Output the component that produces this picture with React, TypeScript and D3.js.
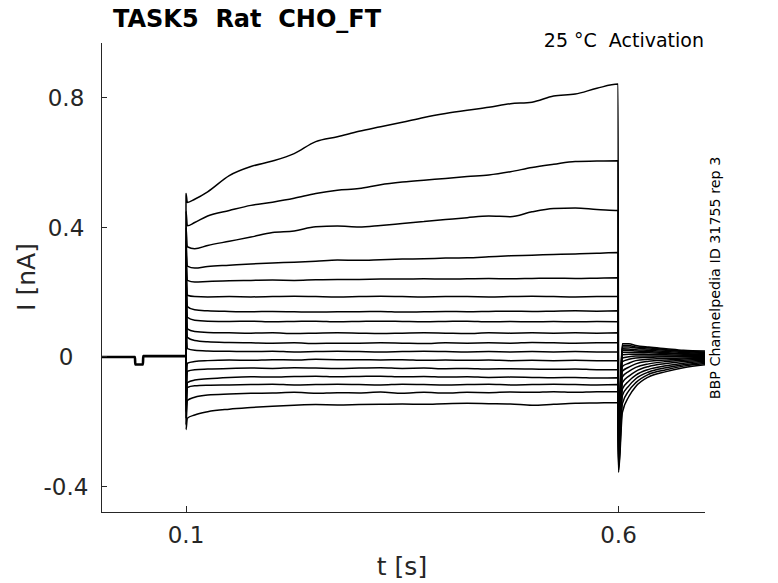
import React, { useRef, useEffect } from 'react';
import * as d3 from 'd3';

// holding segment before the voltage step (shared by every sweep)
const T_HOLD = [0.0017, 0.041, 0.0413, 0.0502, 0.0505, 0.0999];
const I_HOLD = [-0.001, -0.001, -0.024, -0.024, 0.002, 0.002];

// step segment: first value is the capacitive spike at step onset
const T_STEP = [
  0.1, 0.1015, 0.11, 0.125, 0.15, 0.175, 0.2, 0.225, 0.25, 0.275, 0.3, 0.325, 0.35, 0.375, 0.4,
  0.425, 0.45, 0.475, 0.5, 0.525, 0.55, 0.575, 0.5995,
];

const SWEEP_01 = [0.505, 0.477, 0.487, 0.51, 0.56, 0.588, 0.605, 0.628, 0.665, 0.68, 0.697, 0.711, 0.725, 0.74, 0.752, 0.762, 0.771, 0.782, 0.787, 0.806, 0.812, 0.83, 0.843];
const SWEEP_02 = [0.45, 0.405, 0.415, 0.435, 0.452, 0.468, 0.478, 0.49, 0.505, 0.515, 0.52, 0.532, 0.54, 0.546, 0.551, 0.557, 0.562, 0.572, 0.585, 0.595, 0.604, 0.605, 0.606];
const SWEEP_03 = [0.4, 0.34, 0.334, 0.344, 0.357, 0.37, 0.384, 0.389, 0.402, 0.404, 0.401, 0.406, 0.412, 0.418, 0.424, 0.43, 0.435, 0.433, 0.448, 0.458, 0.46, 0.455, 0.452];
const SWEEP_04 = [0.36, 0.28, 0.274, 0.279, 0.283, 0.287, 0.29, 0.292, 0.295, 0.299, 0.298, 0.3, 0.302, 0.303, 0.305, 0.306, 0.309, 0.312, 0.314, 0.316, 0.318, 0.32, 0.322];
const SWEEP_05 = [0.33, 0.236, 0.231, 0.233, 0.235, 0.236, 0.237, 0.236, 0.238, 0.239, 0.239, 0.24, 0.24, 0.241, 0.24, 0.241, 0.242, 0.241, 0.242, 0.243, 0.242, 0.243, 0.244];
const SWEEP_06 = [0.3, 0.19, 0.186, 0.185, 0.186, 0.185, 0.186, 0.187, 0.186, 0.185, 0.186, 0.187, 0.186, 0.185, 0.186, 0.186, 0.185, 0.186, 0.187, 0.186, 0.185, 0.186, 0.186];
const SWEEP_07 = [0.27, 0.155, 0.145, 0.142, 0.14, 0.139, 0.14, 0.139, 0.138, 0.139, 0.139, 0.14, 0.138, 0.139, 0.14, 0.139, 0.14, 0.141, 0.14, 0.141, 0.142, 0.141, 0.142];
const SWEEP_08 = [0.24, 0.122, 0.113, 0.11, 0.109, 0.11, 0.108, 0.109, 0.11, 0.108, 0.109, 0.11, 0.109, 0.108, 0.109, 0.11, 0.108, 0.109, 0.108, 0.109, 0.108, 0.109, 0.108];
const SWEEP_09 = [0.21, 0.086, 0.078, 0.075, 0.074, 0.073, 0.074, 0.072, 0.073, 0.074, 0.073, 0.072, 0.073, 0.074, 0.073, 0.072, 0.074, 0.073, 0.074, 0.073, 0.074, 0.073, 0.074];
const SWEEP_10 = [0.18, 0.06, 0.05, 0.046, 0.044, 0.043, 0.042, 0.043, 0.041, 0.042, 0.042, 0.043, 0.042, 0.041, 0.043, 0.042, 0.043, 0.042, 0.044, 0.043, 0.042, 0.043, 0.043];
const SWEEP_11 = [0.15, 0.025, 0.02, 0.018, 0.017, 0.016, 0.017, 0.015, 0.016, 0.017, 0.016, 0.015, 0.016, 0.017, 0.016, 0.015, 0.016, 0.015, 0.016, 0.015, 0.016, 0.015, 0.015];
const SWEEP_12 = [-0.12, -0.02, -0.015, -0.012, -0.01, -0.011, -0.009, -0.01, -0.008, -0.009, -0.009, -0.01, -0.009, -0.011, -0.01, -0.011, -0.01, -0.012, -0.011, -0.012, -0.011, -0.012, -0.012];
const SWEEP_13 = [-0.15, -0.045, -0.04, -0.038, -0.036, -0.035, -0.036, -0.034, -0.035, -0.036, -0.035, -0.034, -0.036, -0.035, -0.037, -0.036, -0.038, -0.037, -0.038, -0.039, -0.038, -0.04, -0.04];
const SWEEP_14 = [-0.17, -0.08, -0.072, -0.068, -0.064, -0.062, -0.063, -0.061, -0.06, -0.062, -0.061, -0.06, -0.062, -0.061, -0.063, -0.062, -0.064, -0.063, -0.064, -0.065, -0.064, -0.066, -0.065];
const SWEEP_15 = [-0.19, -0.095, -0.09, -0.088, -0.087, -0.086, -0.085, -0.087, -0.086, -0.085, -0.086, -0.087, -0.085, -0.086, -0.087, -0.086, -0.085, -0.087, -0.086, -0.085, -0.086, -0.087, -0.086];
const SWEEP_16 = [-0.21, -0.135, -0.125, -0.118, -0.115, -0.113, -0.112, -0.11, -0.113, -0.111, -0.112, -0.109, -0.113, -0.11, -0.112, -0.11, -0.111, -0.109, -0.11, -0.108, -0.11, -0.108, -0.108];
const SWEEP_17 = [-0.225, -0.19, -0.18, -0.17, -0.162, -0.157, -0.153, -0.15, -0.148, -0.149, -0.148, -0.147, -0.146, -0.147, -0.145, -0.144, -0.145, -0.146, -0.15, -0.147, -0.144, -0.143, -0.142];

// tail after stepping back: first value is the spike at step offset
const T_TAIL = [0.6, 0.6045, 0.612, 0.62, 0.635, 0.655, 0.675, 0.7];
const TAIL_01 = [-0.2, 0.04, 0.04, 0.035, 0.03, 0.025, 0.02, 0.018];
const TAIL_02 = [-0.22, 0.035, 0.035, 0.03, 0.028, 0.022, 0.018, 0.015];
const TAIL_03 = [-0.23, 0.03, 0.03, 0.027, 0.024, 0.02, 0.016, 0.012];
const TAIL_04 = [-0.24, 0.025, 0.024, 0.022, 0.02, 0.016, 0.013, 0.01];
const TAIL_05 = [-0.25, 0.02, 0.02, 0.018, 0.016, 0.013, 0.01, 0.008];
const TAIL_06 = [-0.26, 0.014, 0.014, 0.013, 0.012, 0.01, 0.008, 0.006];
const TAIL_07 = [-0.27, 0.006, 0.008, 0.008, 0.007, 0.006, 0.005, 0.004];
const TAIL_08 = [-0.28, -0.004, 0, 0.002, 0.002, 0.002, 0.002, 0.002];
const TAIL_09 = [-0.29, -0.015, -0.008, -0.004, -0.002, 0, 0, 0];
const TAIL_10 = [-0.3, -0.03, -0.02, -0.012, -0.008, -0.005, -0.004, -0.002];
const TAIL_11 = [-0.31, -0.045, -0.032, -0.022, -0.014, -0.01, -0.007, -0.005];
const TAIL_12 = [-0.32, -0.062, -0.045, -0.033, -0.022, -0.015, -0.011, -0.008];
const TAIL_13 = [-0.33, -0.08, -0.06, -0.045, -0.03, -0.021, -0.015, -0.011];
const TAIL_14 = [-0.335, -0.1, -0.075, -0.057, -0.039, -0.028, -0.02, -0.014];
const TAIL_15 = [-0.34, -0.12, -0.09, -0.068, -0.047, -0.034, -0.025, -0.018];
const TAIL_16 = [-0.35, -0.145, -0.105, -0.08, -0.054, -0.04, -0.029, -0.021];
const TAIL_17 = [-0.357, -0.172, -0.123, -0.092, -0.062, -0.046, -0.034, -0.025];

const SWEEPS = [SWEEP_01, SWEEP_02, SWEEP_03, SWEEP_04, SWEEP_05, SWEEP_06, SWEEP_07, SWEEP_08, SWEEP_09, SWEEP_10, SWEEP_11, SWEEP_12, SWEEP_13, SWEEP_14, SWEEP_15, SWEEP_16, SWEEP_17];
const TAILS = [TAIL_01, TAIL_02, TAIL_03, TAIL_04, TAIL_05, TAIL_06, TAIL_07, TAIL_08, TAIL_09, TAIL_10, TAIL_11, TAIL_12, TAIL_13, TAIL_14, TAIL_15, TAIL_16, TAIL_17];

const X_TICKS = [0.1, 0.6];
const X_TICK_LABELS = ['0.1', '0.6'];
const Y_TICKS = [-0.4, 0, 0.4, 0.8];
const Y_TICK_LABELS = ['-0.4', '0', '0.4', '0.8'];

const FONT = '"DejaVu Sans", Verdana, sans-serif';
const AXIS = '#262626';

export default function App() {
  const svgRef = useRef<SVGSVGElement>(null);

  useEffect(() => {
    if (!svgRef.current) return;
    const svg = d3.select(svgRef.current);
    svg.selectAll('*').remove();

    const x = d3.scaleLinear().domain([0.0017, 0.7]).range([101, 705]);
    const y = d3.scaleLinear().domain([-0.48, 0.97]).range([512, 43]);

    const line = d3
      .line<[number, number]>()
      .x((d) => x(d[0]))
      .y((d) => y(d[1]))
      .curve(d3.curveMonotoneX);

    // holding current
    svg
      .append('path')
      .attr('d', line(T_HOLD.map((t, i) => [t, I_HOLD[i]] as [number, number])))
      .attr('fill', 'none')
      .attr('stroke', '#000')
      .attr('stroke-width', 2.6);

    // sweeps
    SWEEPS.forEach((vals, k) => {
      const pts: [number, number][] = [[0.0999, 0.002]];
      T_STEP.forEach((t, i) => pts.push([t, vals[i]]));
      T_TAIL.forEach((t, i) => pts.push([t, TAILS[k][i]]));
      svg
        .append('path')
        .attr('d', line(pts))
        .attr('fill', 'none')
        .attr('stroke', '#000')
        .attr('stroke-width', 1.5)
        .attr('stroke-linejoin', 'round');
    });

    // axes
    const ax = svg.append('g').attr('stroke', AXIS).attr('stroke-width', 1).attr('shape-rendering', 'crispEdges');
    ax.append('line').attr('x1', 101.5).attr('x2', 101.5).attr('y1', 43).attr('y2', 512);
    ax.append('line').attr('x1', 101).attr('x2', 705).attr('y1', 512.5).attr('y2', 512.5);
    X_TICKS.forEach((t) => {
      ax.append('line').attr('x1', x(t)).attr('x2', x(t)).attr('y1', 512).attr('y2', 506);
    });
    Y_TICKS.forEach((v) => {
      ax.append('line').attr('x1', 101).attr('x2', 107).attr('y1', y(v)).attr('y2', y(v));
    });

    X_TICKS.forEach((t, i) => {
      svg
        .append('text')
        .attr('x', x(t))
        .attr('y', 543)
        .attr('text-anchor', 'middle')
        .attr('font-family', FONT)
        .attr('font-size', 23)
        .attr('fill', AXIS)
        .text(X_TICK_LABELS[i]);
    });
    Y_TICKS.forEach((v, i) => {
      svg
        .append('text')
        .attr('x', 66)
        .attr('y', y(v) + 8.5)
        .attr('text-anchor', 'middle')
        .attr('font-family', FONT)
        .attr('font-size', 23)
        .attr('fill', AXIS)
        .text(Y_TICK_LABELS[i]);
    });

    // labels
    svg
      .append('text')
      .attr('x', 402)
      .attr('y', 575)
      .attr('text-anchor', 'middle')
      .attr('font-family', FONT)
      .attr('font-size', 25)
      .attr('fill', AXIS)
      .text('t [s]');
    svg
      .append('text')
      .attr('transform', 'translate(35,277) rotate(-90)')
      .attr('text-anchor', 'middle')
      .attr('font-family', FONT)
      .attr('font-size', 25)
      .attr('fill', AXIS)
      .text('I [nA]');

    svg
      .append('text')
      .attr('x', 113)
      .attr('y', 27)
      .attr('font-family', FONT)
      .attr('font-size', 24)
      .attr('font-weight', 'bold')
      .attr('fill', '#000')
      .style('white-space', 'pre')
      .text('TASK5  Rat  CHO_FT');

    svg
      .append('text')
      .attr('x', 704)
      .attr('y', 47)
      .attr('text-anchor', 'end')
      .attr('font-family', FONT)
      .attr('font-size', 19)
      .attr('fill', '#000')
      .style('white-space', 'pre')
      .text('25 °C  Activation');

    svg
      .append('text')
      .attr('transform', 'translate(720,278) rotate(-90)')
      .attr('text-anchor', 'middle')
      .attr('font-family', FONT)
      .attr('font-size', 14.3)
      .attr('fill', '#000')
      .text('BBP Channelpedia ID 31755 rep 3');
  }, []);

  return (
    <svg
      ref={svgRef}
      width={778}
      height={583}
      style={{ position: 'absolute', left: 0, top: 0, background: '#fff' }}
    />
  );
}
